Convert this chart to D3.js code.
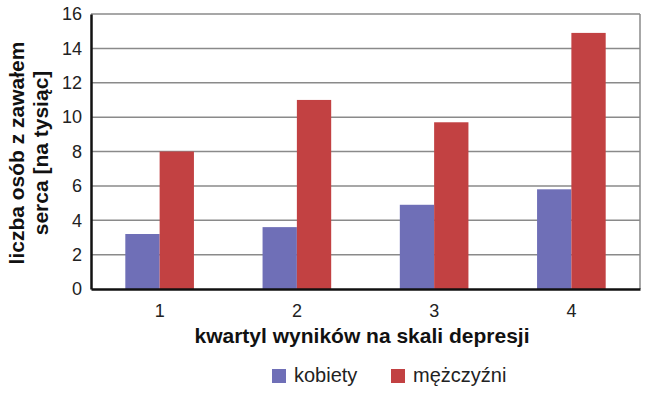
<!DOCTYPE html>
<html>
<head>
<meta charset="utf-8">
<script src="https://cdn.jsdelivr.net/npm/d3@7"></script>
<style>
  body { margin: 0; background: #fff; }
</style>
</head>
<body>
<script>
// data
const quartiles = ['1', '2', '3', '4'];
const women = [3.2, 3.6, 4.9, 5.8];
const men = [8.0, 11.0, 9.7, 14.9];
const yTicks = [0, 2, 4, 6, 8, 10, 12, 14, 16];
const seriesNames = ['kobiety', 'mężczyźni'];
const colors = ['#6f6fb7', '#c24142'];

const font = 'Liberation Sans';
const [w, h] = [649, 393];
const margin = {left: 91, right: 9, top: 14, bottom: 104};

const svg = d3.select('body')
    .append('svg')
    .attr('width', w)
    .attr('height', h)
    .attr('font-family', font);

const xScale = d3.scaleBand()
    .domain(quartiles)
    .range([margin.left, w - margin.right])
    .paddingInner(0.5)
    .paddingOuter(0.25);

const yScale = d3.scaleLinear()
    .domain([0, 16])
    .range([h - margin.bottom, margin.top]);

// gridlines
svg.append('g')
    .selectAll('line')
    .data(yTicks.slice(1))
    .enter()
    .append('line')
    .attr('x1', margin.left)
    .attr('x2', w - margin.right)
    .attr('y1', d => yScale(d))
    .attr('y2', d => yScale(d))
    .attr('stroke', '#8a8a8a')
    .attr('stroke-width', 1.5);

// right border
svg.append('line')
    .attr('x1', w - margin.right)
    .attr('x2', w - margin.right)
    .attr('y1', margin.top)
    .attr('y2', h - margin.bottom)
    .attr('stroke', '#8a8a8a')
    .attr('stroke-width', 1.5);

// bars
const rows = quartiles.map((q, i) => ({q: q, vals: [women[i], men[i]]}));
const inner = d3.scaleBand()
    .domain([0, 1])
    .range([0, xScale.bandwidth()]);

svg.append('g')
    .selectAll('g')
    .data(rows)
    .enter()
    .append('g')
    .attr('transform', d => `translate(${xScale(d.q)},0)`)
    .selectAll('rect')
    .data(d => d.vals)
    .enter()
    .append('rect')
    .attr('x', (d, i) => inner(i))
    .attr('width', inner.bandwidth())
    .attr('y', d => yScale(d))
    .attr('height', d => yScale(0) - yScale(d))
    .attr('fill', (d, i) => colors[i]);

// axes
const yAxis = d3.axisLeft(yScale)
    .tickValues(yTicks)
    .tickSize(0)
    .tickPadding(9);

const yG = svg.append('g')
    .attr('transform', `translate(${margin.left},0)`)
    .call(yAxis)
    .attr('font-family', font)
    .attr('font-size', 18);
yG.select('.domain').attr('stroke', '#111').attr('stroke-width', 2.5);
yG.selectAll('text').attr('fill', '#222');

const xAxis = d3.axisBottom(xScale)
    .tickSize(0)
    .tickPadding(15);

const xG = svg.append('g')
    .attr('transform', `translate(0,${h - margin.bottom})`)
    .call(xAxis)
    .attr('font-family', font)
    .attr('font-size', 18);
xG.select('.domain').attr('stroke', '#111').attr('stroke-width', 2.5);
xG.selectAll('text').attr('fill', '#222');

// titles
svg.append('text')
    .attr('x', 362)
    .attr('y', 343)
    .attr('text-anchor', 'middle')
    .attr('font-size', 21)
    .attr('font-weight', 'bold')
    .attr('fill', '#111')
    .text('kwartyl wyników na skali depresji');

const yTitle = svg.append('text')
    .attr('transform', 'translate(24,153) rotate(-90)')
    .attr('text-anchor', 'middle')
    .attr('font-size', 21)
    .attr('font-weight', 'bold')
    .attr('fill', '#111');
yTitle.append('tspan').attr('x', 0).attr('dy', 0).text('liczba osób z zawałem');
yTitle.append('tspan').attr('x', 0).attr('dy', 24).text('serca [na tysiąc]');

// legend
const legend = svg.append('g');
const legendX = [272, 391];
seriesNames.forEach((name, i) => {
    legend.append('rect')
        .attr('x', legendX[i])
        .attr('y', 369)
        .attr('width', 14)
        .attr('height', 14)
        .attr('fill', colors[i]);
    legend.append('text')
        .attr('x', legendX[i] + 22)
        .attr('y', 382)
        .attr('font-size', 20)
        .attr('fill', '#222')
        .text(name);
});
</script>
</body>
</html>
